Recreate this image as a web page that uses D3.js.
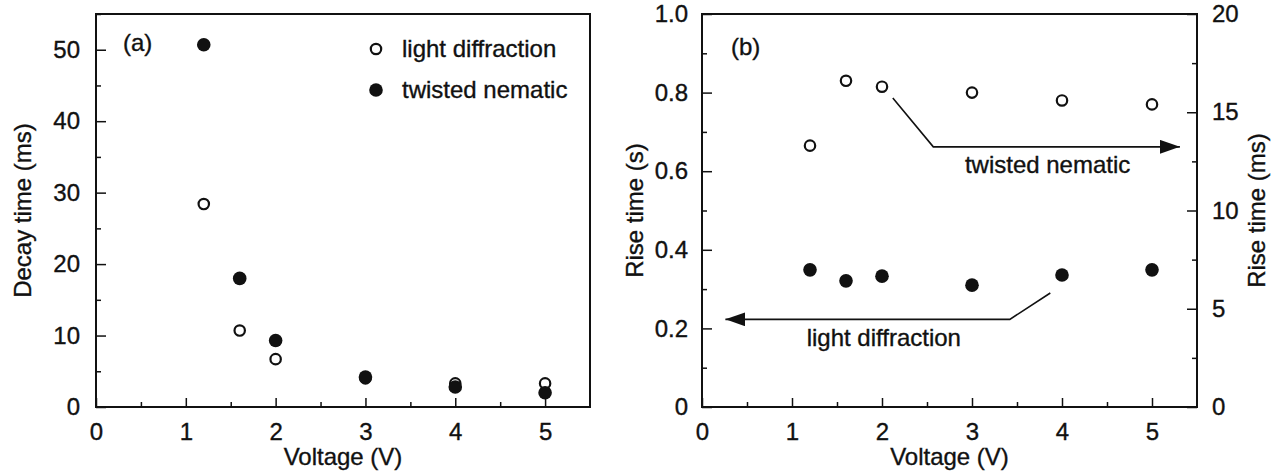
<!DOCTYPE html>
<html>
<head>
<meta charset="utf-8">
<script src="https://cdn.jsdelivr.net/npm/d3@7"></script>
<style>
  html, body { margin: 0; padding: 0; background: #fff; }
  svg { display: block; }
  text { font-family: 'Liberation Sans', Arial, Helvetica, sans-serif; fill: #111; stroke: #111; stroke-width: 0.35px; }
</style>
</head>
<body>
<div id="chart"></div>
<script>
// ── Data ──
const voltage = [1.2, 1.6, 2, 3, 4, 5];
// panel (a): decay time, ms
const decayDiffraction = [28.4, 10.7, 6.7, 4.0, 3.3, 3.3];
const decayNematic = [50.7, 18.0, 9.3, 4.2, 2.8, 2.0];
// panel (b): rise time
const riseDiffraction = [0.349, 0.321, 0.333, 0.310, 0.336, 0.349]; // s, left axis
const riseNematic = [13.3, 16.6, 16.3, 16.0, 15.6, 15.4];          // ms, right axis

const xTicks = [0, 1, 2, 3, 4, 5];
const decayTicks = [0, 10, 20, 30, 40, 50];
const riseSTicks = [0, 0.2, 0.4, 0.6, 0.8, 1.0];
const riseMsTicks = [0, 5, 10, 15, 20];

// annotation arrows, in data units (x: V, y: left axis s)
const nematicArrow = [[2.12, 0.786], [2.57, 0.662], [5.31, 0.662]];
const diffractionArrow = [[3.87, 0.290], [3.42, 0.223], [0.26, 0.223]];

const W = 1277, H = 472;
const TOP = 14, BOTTOM = 407;
const panels = { a: [96, 590], b: [702, 1197] };

const COL = { ink: '#111' };
const FS = 24;

const svg = d3.select('#chart').append('svg')
  .attr('width', W).attr('height', H).attr('viewBox', `0 0 ${W} ${H}`);

const defs = svg.append('defs');
defs.append('marker')
  .attr('id', 'head')
  .attr('viewBox', '0 -7 20 14')
  .attr('refX', 20).attr('refY', 0)
  .attr('markerUnits', 'userSpaceOnUse')
  .attr('markerWidth', 20).attr('markerHeight', 14)
  .attr('orient', 'auto')
  .append('path')
  .attr('d', 'M0,-7L20,0L0,7Z')
  .attr('fill', COL.ink);

const minor = (lo, hi, step) => d3.range(lo, hi + step / 2, step);

function styleAxis(g) {
  g.select('.domain').remove();
  g.selectAll('line').attr('stroke', COL.ink).attr('stroke-width', 1.5);
  g.selectAll('text').attr('font-size', FS).style('fill', COL.ink);
}

function frame(x0, x1) {
  svg.append('rect')
    .attr('x', x0).attr('y', TOP)
    .attr('width', x1 - x0).attr('height', BOTTOM - TOP)
    .attr('fill', 'none').attr('stroke', COL.ink).attr('stroke-width', 2);
}

function xAxis(x, label) {
  svg.append('g').attr('transform', `translate(0,${BOTTOM})`)
    .call(d3.axisBottom(x).tickValues(minor(0.5, 5, 1)).tickSize(-5).tickFormat(''))
    .call(styleAxis);
  svg.append('g').attr('transform', `translate(0,${BOTTOM})`)
    .call(d3.axisBottom(x).tickValues(xTicks).tickSize(-9).tickPadding(16).tickFormat(d3.format('d')))
    .call(styleAxis);
  const [r0, r1] = x.range();
  svg.append('text')
    .attr('x', (r0 + r1) / 2).attr('y', 465)
    .attr('text-anchor', 'middle').attr('font-size', FS)
    .text(label);
}

function yLabel(cx, text) {
  svg.append('text')
    .attr('transform', `translate(${cx},${(TOP + BOTTOM) / 2}) rotate(-90)`)
    .attr('text-anchor', 'middle').attr('dy', '0.35em').attr('font-size', FS)
    .text(text);
}

function dots(x, y, xs, ys, filled) {
  svg.append('g').selectAll('circle').data(xs).enter().append('circle')
    .attr('cx', d => x(d))
    .attr('cy', (d, i) => y(ys[i]))
    .attr('r', filled ? 6.8 : 5.2)
    .attr('fill', filled ? COL.ink : '#fff')
    .attr('stroke', COL.ink)
    .attr('stroke-width', filled ? 0 : 2.2);
}

/* ── Panel (a) ── */
{
  const x = d3.scaleLinear().domain([0, 5.5]).range(panels.a);
  const y = d3.scaleLinear().domain([0, 55]).range([BOTTOM, TOP]);

  frame(...panels.a);
  svg.append('g').attr('transform', `translate(${panels.a[0]},0)`)
    .call(d3.axisLeft(y).tickValues(minor(5, 55, 10)).tickSize(-5).tickFormat(''))
    .call(styleAxis);
  svg.append('g').attr('transform', `translate(${panels.a[0]},0)`)
    .call(d3.axisLeft(y).tickValues(decayTicks).tickSize(-10).tickPadding(16))
    .call(styleAxis);
  xAxis(x, 'Voltage (V)');
  yLabel(23, 'Decay time (ms)');

  dots(x, y, voltage, decayDiffraction, false);
  dots(x, y, voltage, decayNematic, true);

  svg.append('text').attr('x', 123).attr('y', 51).attr('font-size', FS).text('(a)');

  // legend
  const lg = svg.append('g').attr('transform', 'translate(376,49)');
  lg.append('circle').attr('r', 5.2).attr('fill', '#fff').attr('stroke', COL.ink).attr('stroke-width', 2.2);
  lg.append('text').attr('x', 26).attr('dy', '0.35em').attr('font-size', FS).text('light diffraction');
  lg.append('circle').attr('cy', 41).attr('r', 6.8).attr('fill', COL.ink);
  lg.append('text').attr('x', 26).attr('y', 41).attr('dy', '0.35em').attr('font-size', FS).text('twisted nematic');
}

/* ── Panel (b) ── */
{
  const x = d3.scaleLinear().domain([0, 5.5]).range(panels.b);
  const yS = d3.scaleLinear().domain([0, 1]).range([BOTTOM, TOP]);
  const yMs = d3.scaleLinear().domain([0, 20]).range([BOTTOM, TOP]);

  frame(...panels.b);
  svg.append('g').attr('transform', `translate(${panels.b[0]},0)`)
    .call(d3.axisLeft(yS).tickValues(minor(0.1, 1, 0.2)).tickSize(-5).tickFormat(''))
    .call(styleAxis);
  svg.append('g').attr('transform', `translate(${panels.b[0]},0)`)
    .call(d3.axisLeft(yS).tickValues(riseSTicks).tickSize(-10).tickPadding(14)
      .tickFormat(d => d === 0 ? '0' : d3.format('.1f')(d)))
    .call(styleAxis);
  svg.append('g').attr('transform', `translate(${panels.b[1]},0)`)
    .call(d3.axisRight(yMs).tickValues(minor(2.5, 20, 5)).tickSize(-5).tickFormat(''))
    .call(styleAxis);
  svg.append('g').attr('transform', `translate(${panels.b[1]},0)`)
    .call(d3.axisRight(yMs).tickValues(riseMsTicks).tickSize(-10).tickPadding(15))
    .call(styleAxis);
  xAxis(x, 'Voltage (V)');
  yLabel(635, 'Rise time (s)');
  yLabel(1257, 'Rise time (ms)');

  dots(x, yMs, voltage, riseNematic, false);
  dots(x, yS, voltage, riseDiffraction, true);

  svg.append('text').attr('x', 731).attr('y', 55).attr('font-size', FS).text('(b)');

  const line = d3.line().x(d => x(d[0])).y(d => yS(d[1]));
  [nematicArrow, diffractionArrow].forEach(pts => {
    svg.append('path')
      .attr('d', line(pts))
      .attr('fill', 'none').attr('stroke', COL.ink).attr('stroke-width', 1.6)
      .attr('marker-end', 'url(#head)');
  });

  svg.append('text').attr('x', x(3.84)).attr('y', 173)
    .attr('text-anchor', 'middle').attr('font-size', FS).text('twisted nematic');
  svg.append('text').attr('x', x(2.02)).attr('y', 346)
    .attr('text-anchor', 'middle').attr('font-size', FS).text('light diffraction');
}
</script>
</body>
</html>
